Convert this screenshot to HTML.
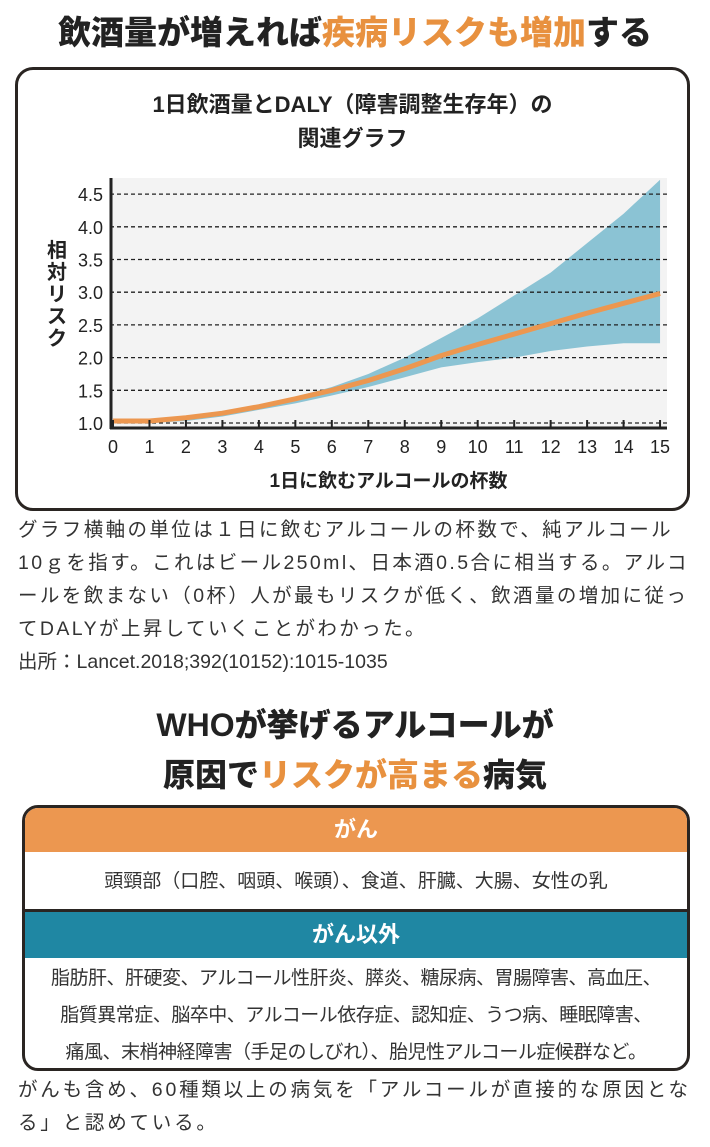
<!DOCTYPE html>
<html><head><meta charset="utf-8">
<style>
*{margin:0;padding:0;box-sizing:border-box}
body{width:710px;height:1147px;background:#fff;font-family:"Liberation Sans","Noto Sans CJK JP",sans-serif;color:#222;position:relative;overflow:hidden}
.abs{position:absolute}
.or{color:#e8913f}
#title{left:0;width:710px;top:6px;text-align:center;font-size:33px;font-weight:900;letter-spacing:0px}
#chartbox{left:15px;top:67px;width:675px;height:444px;border:3px solid #2a2522;border-radius:18px}
#ctitle{left:15px;width:675px;top:88px;text-align:center;font-size:22px;font-weight:bold;line-height:34px}
#ylab{left:44px;top:240px;width:26px;font-size:20px;font-weight:bold;line-height:22px;text-align:center}
#xlab{left:110px;width:557px;top:466px;text-align:center;font-size:19px;font-weight:bold}
.cap{left:18px;width:700px;font-size:19.5px;line-height:33px;color:#333;white-space:nowrap}
#sec{left:0;width:710px;top:700px;text-align:center;font-size:32px;font-weight:900;line-height:50px}
#tbl{left:22px;top:805px;width:668px;height:266px;border:3px solid #2a2522;border-radius:16px;overflow:hidden}
.hd{position:absolute;left:0;width:100%;text-align:center;color:#fff;font-size:22px;font-weight:bold}
.bd{position:absolute;left:0;width:100%;text-align:center;font-size:19px;color:#333;white-space:nowrap}
</style></head><body>
<div id="title" class="abs">飲酒量が増えれば<span class="or">疾病リスクも増加</span>する</div>
<div id="chartbox" class="abs"></div>
<div id="ctitle" class="abs">1日飲酒量とDALY（障害調整生存年）の<br>関連グラフ</div>
<div id="ylab" class="abs">相対リスク</div>
<svg id="chart" class="abs" style="left:0;top:0" width="710" height="470"></svg>
<div id="xlab" class="abs">1日に飲むアルコールの杯数</div>
<div class="abs cap" style="top:514px;letter-spacing:2.4px">グラフ横軸の単位は１日に飲むアルコールの杯数で、純アルコール<br>10ｇを指す。これはビール250ml、日本酒0.5合に相当する。アルコ<br>ールを飲まない（0杯）人が最もリスクが低く、飲酒量の増加に従っ<br>てDALYが上昇していくことがわかった。</div>
<div class="abs cap" style="top:646px;letter-spacing:0">出所：Lancet.2018;392(10152):1015-1035</div>
<div id="sec" class="abs">WHOが挙げるアルコールが<br>原因で<span class="or">リスクが高まる</span>病気</div>
<div id="tbl" class="abs">
<div class="hd" style="top:0;height:44px;line-height:44px;background:#ec9750">がん</div>
<div class="bd" style="top:44px;height:60px;line-height:60px;border-bottom:3px solid #2a2522">頭頸部（口腔、咽頭、喉頭）、食道、肝臓、大腸、女性の乳</div>
<div class="hd" style="top:104px;height:46px;line-height:46px;background:#1f87a3">がん以外</div>
<div class="bd" style="top:152px;line-height:37px;letter-spacing:-0.5px">脂肪肝、肝硬変、アルコール性肝炎、膵炎、糖尿病、胃腸障害、高血圧、<br>脂質異常症、脳卒中、アルコール依存症、認知症、うつ病、睡眠障害、<br>痛風、末梢神経障害（手足のしびれ）、胎児性アルコール症候群など。</div>
</div>
<div class="abs cap" style="top:1074px;letter-spacing:2.8px">がんも含め、60種類以上の病気を「アルコールが直接的な原因とな<br>る」と認めている。</div>
<script>
const drinks=[0,1,2,3,4,5,6,7,8,9,10,11,12,13,14,15];
const riskMean=[1.03,1.03,1.08,1.15,1.25,1.37,1.5,1.65,1.83,2.03,2.2,2.36,2.52,2.68,2.83,2.98];
const riskUpper=[1.03,1.03,1.08,1.16,1.27,1.4,1.55,1.75,2.0,2.3,2.6,2.95,3.3,3.75,4.2,4.72];
const riskLower=[1.02,1.0,1.03,1.1,1.2,1.3,1.42,1.55,1.7,1.85,1.93,2.0,2.1,2.17,2.22,2.22];
const yTicks=["1.0","1.5","2.0","2.5","3.0","3.5","4.0","4.5"];
const svg=document.getElementById('chart');
const NS='http://www.w3.org/2000/svg';
const X=v=>113+v*36.47;
const Y=v=>423-(v-1)*65.4;
function mk(t,a){const e=document.createElementNS(NS,t);for(const k in a)e.setAttribute(k,a[k]);svg.appendChild(e);return e;}
const bg=mk('rect',{x:110,y:178,width:557,height:250,fill:'#f3f3f3'});


let d='M'+drinks.map((x,i)=>X(x)+','+Y(riskUpper[i])).join('L');
for(let i=drinks.length-1;i>=0;i--)d+='L'+X(drinks[i])+','+Y(riskLower[i]);
const band=mk('path',{d:d+'Z',fill:'#8bc3d4'});


yTicks.forEach(t=>{const y=Y(+t);
const g=mk('line',{x1:110,x2:667,y1:y,y2:y,stroke:'#222','stroke-width':1.3,'stroke-dasharray':'4,3'});


const l=mk('text',{x:103,y:y+7,'text-anchor':'end','font-size':18,fill:'#222','font-family':'Liberation Sans, sans-serif'});
l.textContent=t;

});
const line=mk('path',{d:'M'+drinks.map((x,i)=>X(x)+','+Y(riskMean[i])).join('L'),fill:'none',stroke:'#ec9750','stroke-width':5,'stroke-linejoin':'round'});


const ax=mk('line',{x1:110,x2:667,y1:428,y2:428,stroke:'#222','stroke-width':3});


const ay=mk('line',{x1:111,x2:111,y1:178,y2:429,stroke:'#222','stroke-width':3});


drinks.forEach(v=>{const x=X(v);
const tk=mk('line',{x1:x,x2:x,y1:420,y2:428,stroke:'#222','stroke-width':2});


const l=mk('text',{x:x,y:453,'text-anchor':'middle','font-size':18,fill:'#222','font-family':'Liberation Sans, sans-serif'});
l.textContent=v;

});
</script>
</body></html>
